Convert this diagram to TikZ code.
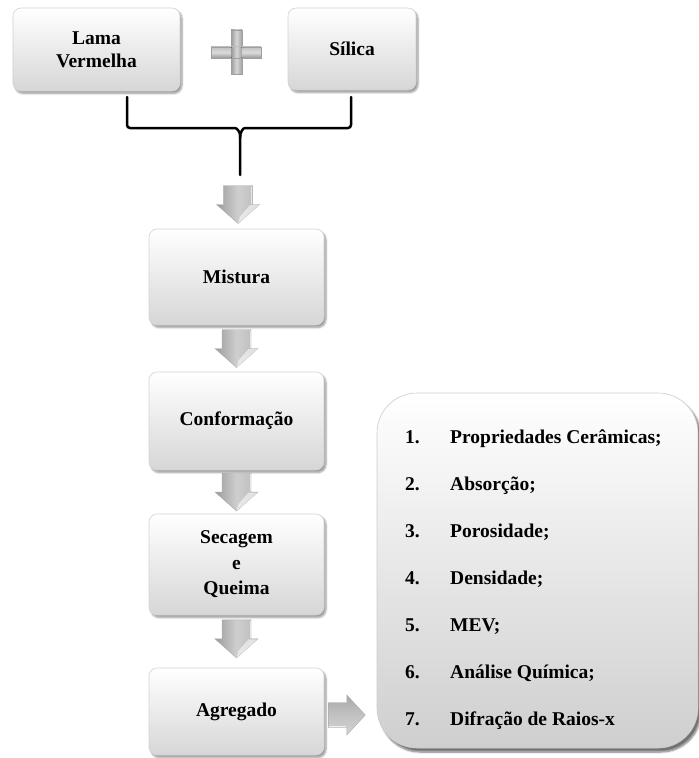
\documentclass[tikz,border=0pt]{standalone}
\usepackage{fontspec}
\setmainfont{Liberation Serif}
\usetikzlibrary{shadows.blur,calc}

\begin{document}
\begin{tikzpicture}[x=1bp,y=-1bp,
  every node/.style={font=\fontsize{19.5bp}{23bp}\selectfont\bfseries},
  stepbox/.style={draw=gray!35, line width=0.6bp, rounded corners=8bp,
    top color=white, bottom color=gray!32, inner sep=0pt, align=center,
    blur shadow={shadow xshift=2bp, shadow yshift=-2.5bp, shadow opacity=40, shadow blur steps=6}},
  listbox/.style={draw=gray!40, line width=0.6bp, rounded corners=40bp,
    top color=white, bottom color=gray!38, inner sep=0pt,
    blur shadow={shadow xshift=3bp, shadow yshift=-4bp, shadow opacity=55, shadow blur steps=8}},
  downfill/.style={draw=gray!65, line width=0.4bp, left color=gray!78, right color=gray!55, middle color=gray!38},
  rightfill/.style={draw=gray!65, line width=0.4bp, top color=gray!68, bottom color=gray!35, middle color=gray!48},
  gloss/.style={fill=white, fill opacity=0.55},
  brace/.style={line width=2.5bp, line join=round, line cap=round},
  plusbar/.style={draw=gray!75, line width=0.5bp}
]
\useasboundingbox (0,0) rectangle (699,758);

% input materials
\node[stepbox, minimum width=167bp, minimum height=83bp] (lama) at (96.5,49.5) {Lama\\Vermelha};
\node[stepbox, minimum width=128bp, minimum height=82bp] (silica) at (352,49) {Sílica};

% plus sign between the inputs
\fill[plusbar, left color=gray!78, right color=gray!72, middle color=gray!32] (231,30) rectangle (242,74);
\fill[plusbar, top color=gray!48, bottom color=gray!80, middle color=gray!28] (211,47) rectangle (261,58);
\fill[left color=gray!78, right color=gray!72, middle color=gray!32] (231.3,47.3) rectangle (241.7,57.7);

% bracket joining both inputs
\coordinate (bl) at (127,97);
\coordinate (br) at (351,97);
\coordinate (bm) at (240,138);
\coordinate (be) at (240,175);
\draw[brace, rounded corners=3bp] (bl) |- (232,128) .. controls (237,128) and (240,132) .. (bm) -- (be);
\draw[brace, rounded corners=3bp] (br) |- (248,128) .. controls (243,128) and (240,132) .. (bm);

% process steps
\node[stepbox, minimum width=175bp, minimum height=96bp] (mistura) at (236.5,277) {Mistura};
\node[stepbox, minimum width=175bp, minimum height=98bp] (conf) at (236.5,421) {Conformação};
\node[stepbox, minimum width=175bp, minimum height=101bp, font=\fontsize{19.5bp}{25.5bp}\selectfont\bfseries] (sec) at (236.5,564.5) {Secagem\\e\\Queima};
\node[stepbox, minimum width=175bp, minimum height=87bp] (agr) at (236.5,711.5) {Agregado};

% characterisation list
\node[listbox, minimum width=321bp, minimum height=355bp] (list) at (537.5,570.5) {};
\foreach \i/\t in {1/{Propriedades Cerâmicas;}, 2/{Absorção;}, 3/{Porosidade;}, 4/{Densidade;},
                   5/{MEV;}, 6/{Análise Química;}, 7/{Difração de Raios-x}} {
  \node[anchor=base west, inner sep=0pt] (num\i) at (405,{443+47*(\i-1)}) {\i.};
  \node[anchor=base west, inner sep=0pt] (item\i) at (450,{443+47*(\i-1)}) {\t};
}

% block arrows between the steps
\coordinate (a1) at ($(be)!0.55!(mistura.north)$);
\coordinate (a2) at ($(mistura.south)!0.5!(conf.north)$);
\coordinate (a3) at ($(conf.south)!0.5!(sec.north)$);
\coordinate (a4) at ($(sec.south)!0.45!(agr.north)$);
\foreach \a in {a1,a2,a3,a4} {
  \begin{scope}[shift={(\a)}]
    \path[downfill] (-14.5,-19) -- (14.5,-19) -- (14.5,0) -- (21.5,0) -- (0,19)
      -- (-21.5,0) -- (-14.5,0) -- cycle;
    \fill[gloss] (0,19) -- (21,0.5) -- (12,0.5) -- (2,12) -- cycle;
    \draw[white, opacity=0.6, line width=0.8bp] (13.5,-18) -- (13.5,-1);
  \end{scope}
}
\coordinate (a5) at ($(agr.east)+(22.5,3.5)$);
\begin{scope}[shift={(a5)}]
  \path[rightfill] (-18.5,-12.5) -- (0,-12.5) -- (0,-20) -- (18.5,0) -- (0,20)
    -- (0,12.5) -- (-18.5,12.5) -- cycle;
  \draw[white, opacity=0.7, line width=1bp] (-17.5,11.5) -- (-1,11.5);
\end{scope}
\end{tikzpicture}
\end{document}
